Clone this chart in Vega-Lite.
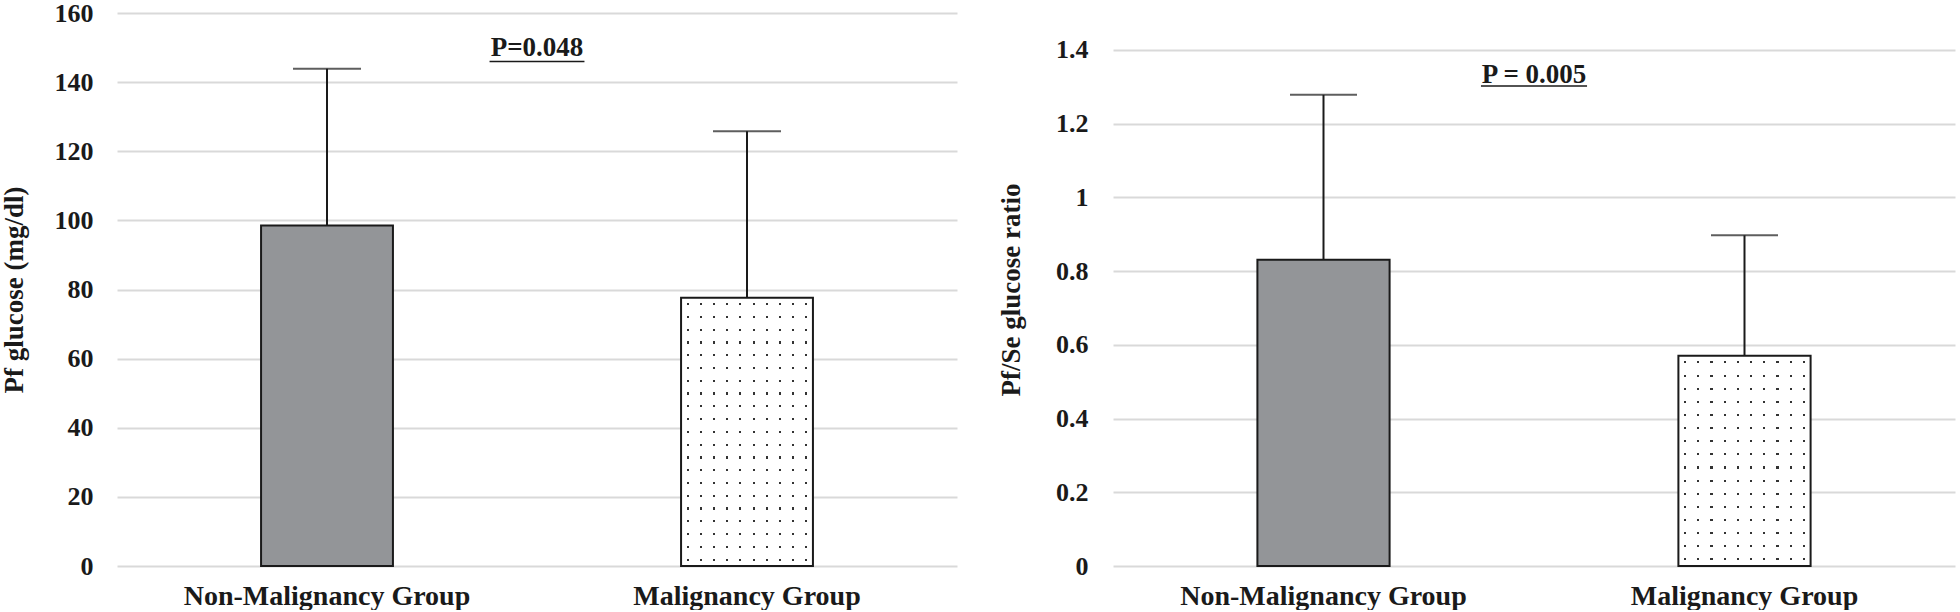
{
  "$schema": "https://vega.github.io/schema/vega-lite/v6.json",
  "padding": {"left": 0, "top": 0, "right": 5, "bottom": 0},
  "background": "white",
  "spacing": 40,
  "config": {
    "view": {"stroke": null},
    "font": "Liberation Serif",
    "axis": {
      "labelFont": "Liberation Serif",
      "labelFontWeight": "bold",
      "labelColor": "#1a1a1a",
      "labelLimit": 0,
      "titleFont": "Liberation Serif",
      "titleFontWeight": "bold",
      "titleColor": "#1a1a1a",
      "domain": false,
      "ticks": false,
      "gridColor": "#d9d9d9",
      "gridWidth": 2
    }
  },
  "hconcat": [
    {
      "width": 840,
      "height": 553,
      "resolve": {"scale": {"x": "independent"}, "axis": {"x": "independent"}},
      "layer": [
        {
          "data": {"values": [
            {"group": "Non-Malignancy Group", "mean": 98.5, "upper": 143.9},
            {"group": "Malignancy Group", "mean": 77.6, "upper": 125.8}
          ]},
          "encoding": {
            "x": {"field": "group", "type": "nominal", "sort": null,
              "scale": {"paddingInner": 0.686, "paddingOuter": 0.343},
              "axis": {"title": null, "labelAngle": 0, "labelFontSize": 28, "labelPadding": 16, "grid": false}},
            "y": {"field": "mean", "type": "quantitative",
              "scale": {"domain": [0, 160], "nice": false},
              "axis": {"values": [0, 20, 40, 60, 80, 100, 120, 140, 160], "title": "Pf glucose (mg/dl)", "titleFontSize": 27, "labelFontSize": 26, "labelPadding": 24, "titlePadding": 26, "grid": true}}
          },
          "layer": [
            {"transform": [{"filter": "datum.group === 'Non-Malignancy Group'"}],
             "mark": {"type": "bar", "fill": "#939598", "stroke": "#1a1a1a", "strokeWidth": 2}},
            {"transform": [{"filter": "datum.group === 'Malignancy Group'"}],
             "mark": {"type": "bar", "fill": {"gradient": "linear", "x1": 0, "y1": 0, "x2": 1, "y2": 0, "stops": [
               {"offset": 0, "color": "#ffffff"},
               {"offset": 0.042, "color": "#ffffff"}, {"offset": 0.042, "color": "#333333"}, {"offset": 0.058, "color": "#333333"}, {"offset": 0.058, "color": "#ffffff"},
               {"offset": 0.142, "color": "#ffffff"}, {"offset": 0.142, "color": "#333333"}, {"offset": 0.158, "color": "#333333"}, {"offset": 0.158, "color": "#ffffff"},
               {"offset": 0.242, "color": "#ffffff"}, {"offset": 0.242, "color": "#333333"}, {"offset": 0.258, "color": "#333333"}, {"offset": 0.258, "color": "#ffffff"},
               {"offset": 0.342, "color": "#ffffff"}, {"offset": 0.342, "color": "#333333"}, {"offset": 0.358, "color": "#333333"}, {"offset": 0.358, "color": "#ffffff"},
               {"offset": 0.442, "color": "#ffffff"}, {"offset": 0.442, "color": "#333333"}, {"offset": 0.458, "color": "#333333"}, {"offset": 0.458, "color": "#ffffff"},
               {"offset": 0.542, "color": "#ffffff"}, {"offset": 0.542, "color": "#333333"}, {"offset": 0.558, "color": "#333333"}, {"offset": 0.558, "color": "#ffffff"},
               {"offset": 0.642, "color": "#ffffff"}, {"offset": 0.642, "color": "#333333"}, {"offset": 0.658, "color": "#333333"}, {"offset": 0.658, "color": "#ffffff"},
               {"offset": 0.742, "color": "#ffffff"}, {"offset": 0.742, "color": "#333333"}, {"offset": 0.758, "color": "#333333"}, {"offset": 0.758, "color": "#ffffff"},
               {"offset": 0.842, "color": "#ffffff"}, {"offset": 0.842, "color": "#333333"}, {"offset": 0.858, "color": "#333333"}, {"offset": 0.858, "color": "#ffffff"},
               {"offset": 0.942, "color": "#ffffff"}, {"offset": 0.942, "color": "#333333"}, {"offset": 0.958, "color": "#333333"}, {"offset": 0.958, "color": "#ffffff"},
               {"offset": 1, "color": "#ffffff"}
             ]}}},
            {"transform": [{"filter": "datum.group === 'Malignancy Group'"}],
             "mark": {"type": "bar", "fill": {"gradient": "linear", "x1": 0, "y1": 0, "x2": 0, "y2": 1, "stops": [
               {"offset": 0, "color": "#ffffff"},
               {"offset": 0.0198, "color": "#ffffff"}, {"offset": 0.0198, "color": "rgba(255,255,255,0)"}, {"offset": 0.0278, "color": "rgba(255,255,255,0)"}, {"offset": 0.0278, "color": "#ffffff"},
               {"offset": 0.0674, "color": "#ffffff"}, {"offset": 0.0674, "color": "rgba(255,255,255,0)"}, {"offset": 0.0754, "color": "rgba(255,255,255,0)"}, {"offset": 0.0754, "color": "#ffffff"},
               {"offset": 0.1150, "color": "#ffffff"}, {"offset": 0.1150, "color": "rgba(255,255,255,0)"}, {"offset": 0.1230, "color": "rgba(255,255,255,0)"}, {"offset": 0.1230, "color": "#ffffff"},
               {"offset": 0.1627, "color": "#ffffff"}, {"offset": 0.1627, "color": "rgba(255,255,255,0)"}, {"offset": 0.1707, "color": "rgba(255,255,255,0)"}, {"offset": 0.1707, "color": "#ffffff"},
               {"offset": 0.2103, "color": "#ffffff"}, {"offset": 0.2103, "color": "rgba(255,255,255,0)"}, {"offset": 0.2183, "color": "rgba(255,255,255,0)"}, {"offset": 0.2183, "color": "#ffffff"},
               {"offset": 0.2579, "color": "#ffffff"}, {"offset": 0.2579, "color": "rgba(255,255,255,0)"}, {"offset": 0.2659, "color": "rgba(255,255,255,0)"}, {"offset": 0.2659, "color": "#ffffff"},
               {"offset": 0.3055, "color": "#ffffff"}, {"offset": 0.3055, "color": "rgba(255,255,255,0)"}, {"offset": 0.3135, "color": "rgba(255,255,255,0)"}, {"offset": 0.3135, "color": "#ffffff"},
               {"offset": 0.3531, "color": "#ffffff"}, {"offset": 0.3531, "color": "rgba(255,255,255,0)"}, {"offset": 0.3611, "color": "rgba(255,255,255,0)"}, {"offset": 0.3611, "color": "#ffffff"},
               {"offset": 0.4008, "color": "#ffffff"}, {"offset": 0.4008, "color": "rgba(255,255,255,0)"}, {"offset": 0.4088, "color": "rgba(255,255,255,0)"}, {"offset": 0.4088, "color": "#ffffff"},
               {"offset": 0.4484, "color": "#ffffff"}, {"offset": 0.4484, "color": "rgba(255,255,255,0)"}, {"offset": 0.4564, "color": "rgba(255,255,255,0)"}, {"offset": 0.4564, "color": "#ffffff"},
               {"offset": 0.4960, "color": "#ffffff"}, {"offset": 0.4960, "color": "rgba(255,255,255,0)"}, {"offset": 0.5040, "color": "rgba(255,255,255,0)"}, {"offset": 0.5040, "color": "#ffffff"},
               {"offset": 0.5436, "color": "#ffffff"}, {"offset": 0.5436, "color": "rgba(255,255,255,0)"}, {"offset": 0.5516, "color": "rgba(255,255,255,0)"}, {"offset": 0.5516, "color": "#ffffff"},
               {"offset": 0.5912, "color": "#ffffff"}, {"offset": 0.5912, "color": "rgba(255,255,255,0)"}, {"offset": 0.5992, "color": "rgba(255,255,255,0)"}, {"offset": 0.5992, "color": "#ffffff"},
               {"offset": 0.6389, "color": "#ffffff"}, {"offset": 0.6389, "color": "rgba(255,255,255,0)"}, {"offset": 0.6469, "color": "rgba(255,255,255,0)"}, {"offset": 0.6469, "color": "#ffffff"},
               {"offset": 0.6865, "color": "#ffffff"}, {"offset": 0.6865, "color": "rgba(255,255,255,0)"}, {"offset": 0.6945, "color": "rgba(255,255,255,0)"}, {"offset": 0.6945, "color": "#ffffff"},
               {"offset": 0.7341, "color": "#ffffff"}, {"offset": 0.7341, "color": "rgba(255,255,255,0)"}, {"offset": 0.7421, "color": "rgba(255,255,255,0)"}, {"offset": 0.7421, "color": "#ffffff"},
               {"offset": 0.7817, "color": "#ffffff"}, {"offset": 0.7817, "color": "rgba(255,255,255,0)"}, {"offset": 0.7897, "color": "rgba(255,255,255,0)"}, {"offset": 0.7897, "color": "#ffffff"},
               {"offset": 0.8293, "color": "#ffffff"}, {"offset": 0.8293, "color": "rgba(255,255,255,0)"}, {"offset": 0.8373, "color": "rgba(255,255,255,0)"}, {"offset": 0.8373, "color": "#ffffff"},
               {"offset": 0.8770, "color": "#ffffff"}, {"offset": 0.8770, "color": "rgba(255,255,255,0)"}, {"offset": 0.8850, "color": "rgba(255,255,255,0)"}, {"offset": 0.8850, "color": "#ffffff"},
               {"offset": 0.9246, "color": "#ffffff"}, {"offset": 0.9246, "color": "rgba(255,255,255,0)"}, {"offset": 0.9326, "color": "rgba(255,255,255,0)"}, {"offset": 0.9326, "color": "#ffffff"},
               {"offset": 0.9722, "color": "#ffffff"}, {"offset": 0.9722, "color": "rgba(255,255,255,0)"}, {"offset": 0.9802, "color": "rgba(255,255,255,0)"}, {"offset": 0.9802, "color": "#ffffff"},
               {"offset": 1, "color": "#ffffff"}
             ]}}},
            {"transform": [{"filter": "datum.group === 'Malignancy Group'"}],
             "mark": {"type": "bar", "fill": "#ffffff", "fillOpacity": 0, "stroke": "#1a1a1a", "strokeWidth": 2}},
            {"mark": {"type": "rule", "color": "#1a1a1a", "strokeWidth": 2},
             "encoding": {"y2": {"field": "upper"}}},
            {"mark": {"type": "tick", "color": "#1a1a1a", "thickness": 2, "size": 68},
             "encoding": {"y": {"field": "upper", "type": "quantitative", "title": "Pf glucose (mg/dl)"}}}
          ]
        },
        {
          "data": {"values": [{"label": "P=0.048"}]},
          "layer": [
            {
              "mark": {"type": "text", "fontSize": 27, "fontWeight": "bold", "color": "#1a1a1a", "baseline": "alphabetic", "align": "center"},
              "encoding": {
                "text": {"field": "label"},
                "x": {"datum": 0.5, "type": "quantitative", "scale": {"domain": [0, 1]}, "axis": null},
                "y": {"datum": 147.6}
              }
            },
            {
              "mark": {"type": "rule", "color": "#1a1a1a", "strokeWidth": 1.5},
              "encoding": {
                "x": {"datum": 0.4435, "type": "quantitative", "axis": null},
                "x2": {"datum": 0.5565},
                "y": {"datum": 146.0}
              }
            }
          ]
        }
      ]
    },
    {
      "width": 842,
      "height": 553,
      "resolve": {"scale": {"x": "independent"}, "axis": {"x": "independent"}},
      "layer": [
        {
          "data": {"values": [
            {"group": "Non-Malignancy Group", "mean": 0.831, "upper": 1.278},
            {"group": "Malignancy Group", "mean": 0.570, "upper": 0.897}
          ]},
          "encoding": {
            "x": {"field": "group", "type": "nominal", "sort": null,
              "scale": {"paddingInner": 0.686, "paddingOuter": 0.343},
              "axis": {"title": null, "labelAngle": 0, "labelFontSize": 28, "labelPadding": 16, "grid": false}},
            "y": {"field": "mean", "type": "quantitative",
              "scale": {"domain": [0, 1.5], "nice": false},
              "axis": {"values": [0, 0.2, 0.4, 0.6, 0.8, 1, 1.2, 1.4], "format": "~g", "title": "Pf/Se glucose ratio", "titleFontSize": 27, "labelFontSize": 26, "labelPadding": 25, "titlePadding": 30, "grid": true}}
          },
          "layer": [
            {"transform": [{"filter": "datum.group === 'Non-Malignancy Group'"}],
             "mark": {"type": "bar", "fill": "#939598", "stroke": "#1a1a1a", "strokeWidth": 2}},
            {"transform": [{"filter": "datum.group === 'Malignancy Group'"}],
             "mark": {"type": "bar", "fill": {"gradient": "linear", "x1": 0, "y1": 0, "x2": 1, "y2": 0, "stops": [
               {"offset": 0, "color": "#ffffff"},
               {"offset": 0.042, "color": "#ffffff"}, {"offset": 0.042, "color": "#333333"}, {"offset": 0.058, "color": "#333333"}, {"offset": 0.058, "color": "#ffffff"},
               {"offset": 0.142, "color": "#ffffff"}, {"offset": 0.142, "color": "#333333"}, {"offset": 0.158, "color": "#333333"}, {"offset": 0.158, "color": "#ffffff"},
               {"offset": 0.242, "color": "#ffffff"}, {"offset": 0.242, "color": "#333333"}, {"offset": 0.258, "color": "#333333"}, {"offset": 0.258, "color": "#ffffff"},
               {"offset": 0.342, "color": "#ffffff"}, {"offset": 0.342, "color": "#333333"}, {"offset": 0.358, "color": "#333333"}, {"offset": 0.358, "color": "#ffffff"},
               {"offset": 0.442, "color": "#ffffff"}, {"offset": 0.442, "color": "#333333"}, {"offset": 0.458, "color": "#333333"}, {"offset": 0.458, "color": "#ffffff"},
               {"offset": 0.542, "color": "#ffffff"}, {"offset": 0.542, "color": "#333333"}, {"offset": 0.558, "color": "#333333"}, {"offset": 0.558, "color": "#ffffff"},
               {"offset": 0.642, "color": "#ffffff"}, {"offset": 0.642, "color": "#333333"}, {"offset": 0.658, "color": "#333333"}, {"offset": 0.658, "color": "#ffffff"},
               {"offset": 0.742, "color": "#ffffff"}, {"offset": 0.742, "color": "#333333"}, {"offset": 0.758, "color": "#333333"}, {"offset": 0.758, "color": "#ffffff"},
               {"offset": 0.842, "color": "#ffffff"}, {"offset": 0.842, "color": "#333333"}, {"offset": 0.858, "color": "#333333"}, {"offset": 0.858, "color": "#ffffff"},
               {"offset": 0.942, "color": "#ffffff"}, {"offset": 0.942, "color": "#333333"}, {"offset": 0.958, "color": "#333333"}, {"offset": 0.958, "color": "#ffffff"},
               {"offset": 1, "color": "#ffffff"}
             ]}}},
            {"transform": [{"filter": "datum.group === 'Malignancy Group'"}],
             "mark": {"type": "bar", "fill": {"gradient": "linear", "x1": 0, "y1": 0, "x2": 0, "y2": 1, "stops": [
               {"offset": 0, "color": "#ffffff"},
               {"offset": 0.0263, "color": "#ffffff"}, {"offset": 0.0263, "color": "rgba(255,255,255,0)"}, {"offset": 0.0363, "color": "rgba(255,255,255,0)"}, {"offset": 0.0363, "color": "#ffffff"},
               {"offset": 0.0888, "color": "#ffffff"}, {"offset": 0.0888, "color": "rgba(255,255,255,0)"}, {"offset": 0.0988, "color": "rgba(255,255,255,0)"}, {"offset": 0.0988, "color": "#ffffff"},
               {"offset": 0.1513, "color": "#ffffff"}, {"offset": 0.1513, "color": "rgba(255,255,255,0)"}, {"offset": 0.1613, "color": "rgba(255,255,255,0)"}, {"offset": 0.1613, "color": "#ffffff"},
               {"offset": 0.2138, "color": "#ffffff"}, {"offset": 0.2138, "color": "rgba(255,255,255,0)"}, {"offset": 0.2238, "color": "rgba(255,255,255,0)"}, {"offset": 0.2238, "color": "#ffffff"},
               {"offset": 0.2763, "color": "#ffffff"}, {"offset": 0.2763, "color": "rgba(255,255,255,0)"}, {"offset": 0.2863, "color": "rgba(255,255,255,0)"}, {"offset": 0.2863, "color": "#ffffff"},
               {"offset": 0.3388, "color": "#ffffff"}, {"offset": 0.3388, "color": "rgba(255,255,255,0)"}, {"offset": 0.3488, "color": "rgba(255,255,255,0)"}, {"offset": 0.3488, "color": "#ffffff"},
               {"offset": 0.4013, "color": "#ffffff"}, {"offset": 0.4013, "color": "rgba(255,255,255,0)"}, {"offset": 0.4113, "color": "rgba(255,255,255,0)"}, {"offset": 0.4113, "color": "#ffffff"},
               {"offset": 0.4638, "color": "#ffffff"}, {"offset": 0.4638, "color": "rgba(255,255,255,0)"}, {"offset": 0.4738, "color": "rgba(255,255,255,0)"}, {"offset": 0.4738, "color": "#ffffff"},
               {"offset": 0.5263, "color": "#ffffff"}, {"offset": 0.5263, "color": "rgba(255,255,255,0)"}, {"offset": 0.5363, "color": "rgba(255,255,255,0)"}, {"offset": 0.5363, "color": "#ffffff"},
               {"offset": 0.5888, "color": "#ffffff"}, {"offset": 0.5888, "color": "rgba(255,255,255,0)"}, {"offset": 0.5988, "color": "rgba(255,255,255,0)"}, {"offset": 0.5988, "color": "#ffffff"},
               {"offset": 0.6513, "color": "#ffffff"}, {"offset": 0.6513, "color": "rgba(255,255,255,0)"}, {"offset": 0.6613, "color": "rgba(255,255,255,0)"}, {"offset": 0.6613, "color": "#ffffff"},
               {"offset": 0.7138, "color": "#ffffff"}, {"offset": 0.7138, "color": "rgba(255,255,255,0)"}, {"offset": 0.7238, "color": "rgba(255,255,255,0)"}, {"offset": 0.7238, "color": "#ffffff"},
               {"offset": 0.7763, "color": "#ffffff"}, {"offset": 0.7763, "color": "rgba(255,255,255,0)"}, {"offset": 0.7863, "color": "rgba(255,255,255,0)"}, {"offset": 0.7863, "color": "#ffffff"},
               {"offset": 0.8388, "color": "#ffffff"}, {"offset": 0.8388, "color": "rgba(255,255,255,0)"}, {"offset": 0.8488, "color": "rgba(255,255,255,0)"}, {"offset": 0.8488, "color": "#ffffff"},
               {"offset": 0.9013, "color": "#ffffff"}, {"offset": 0.9013, "color": "rgba(255,255,255,0)"}, {"offset": 0.9113, "color": "rgba(255,255,255,0)"}, {"offset": 0.9113, "color": "#ffffff"},
               {"offset": 0.9638, "color": "#ffffff"}, {"offset": 0.9638, "color": "rgba(255,255,255,0)"}, {"offset": 0.9738, "color": "rgba(255,255,255,0)"}, {"offset": 0.9738, "color": "#ffffff"},
               {"offset": 1, "color": "#ffffff"}
             ]}}},
            {"transform": [{"filter": "datum.group === 'Malignancy Group'"}],
             "mark": {"type": "bar", "fill": "#ffffff", "fillOpacity": 0, "stroke": "#1a1a1a", "strokeWidth": 2}},
            {"mark": {"type": "rule", "color": "#1a1a1a", "strokeWidth": 2},
             "encoding": {"y2": {"field": "upper"}}},
            {"mark": {"type": "tick", "color": "#1a1a1a", "thickness": 2, "size": 67},
             "encoding": {"y": {"field": "upper", "type": "quantitative", "title": "Pf/Se glucose ratio"}}}
          ]
        },
        {
          "data": {"values": [{"label": "P = 0.005"}]},
          "layer": [
            {
              "mark": {"type": "text", "fontSize": 27, "fontWeight": "bold", "color": "#1a1a1a", "baseline": "alphabetic", "align": "center"},
              "encoding": {
                "text": {"field": "label"},
                "x": {"datum": 0.5, "type": "quantitative", "scale": {"domain": [0, 1]}, "axis": null},
                "y": {"datum": 1.3104}
              }
            },
            {
              "mark": {"type": "rule", "color": "#1a1a1a", "strokeWidth": 1.5},
              "encoding": {
                "x": {"datum": 0.437, "type": "quantitative", "axis": null},
                "x2": {"datum": 0.563},
                "y": {"datum": 1.3022}
              }
            }
          ]
        }
      ]
    }
  ]
}
